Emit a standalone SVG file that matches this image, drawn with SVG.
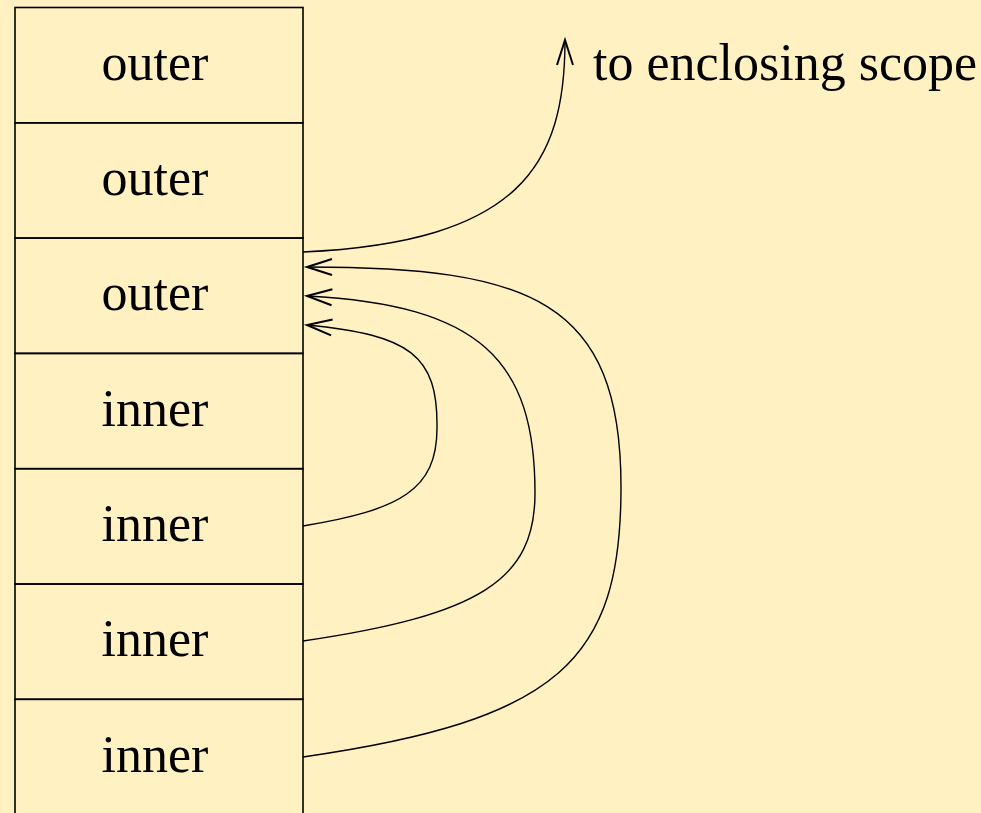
<svg xmlns="http://www.w3.org/2000/svg" width="981" height="813" viewBox="0 0 981 813">
<style>
.cell{fill:none;stroke:#000;stroke-width:1.6}
.lbl{font-family:"Liberation Serif","Times New Roman",serif;font-size:52px;fill:#000;text-anchor:middle}
.note{font-family:"Liberation Serif","Times New Roman",serif;font-size:52px;fill:#000}
.link{fill:none;stroke:#000;stroke-width:1.4;marker-end:url(#arr)}
</style>
<defs>
<marker id="arr" markerUnits="userSpaceOnUse" markerWidth="40" markerHeight="30" viewBox="-30 -15 40 30" refX="0" refY="0" orient="auto">
<path d="M-25,-8 L0,0 L-25,8" fill="none" stroke="#000" stroke-width="2"/>
</marker>
</defs>
<rect width="981" height="813" fill="#fff1c1"/>
<g id="row1"><rect class="cell" x="15" y="7.5" width="288" height="115.3"/><text class="lbl" x="155" y="80">outer</text></g>
<g id="row2"><rect class="cell" x="15" y="122.8" width="288" height="115.3"/><text class="lbl" x="155" y="195">outer</text></g>
<g id="row3"><rect class="cell" x="15" y="238.1" width="288" height="115.3"/><text class="lbl" x="155" y="310">outer</text></g>
<g id="row4"><rect class="cell" x="15" y="353.4" width="288" height="115.3"/><text class="lbl" x="155" y="426">inner</text></g>
<g id="row5"><rect class="cell" x="15" y="468.7" width="288" height="115.3"/><text class="lbl" x="155" y="541">inner</text></g>
<g id="row6"><rect class="cell" x="15" y="584" width="288" height="115.3"/><text class="lbl" x="155" y="656">inner</text></g>
<g id="row7"><rect class="cell" x="15" y="699.3" width="288" height="130"/><text class="lbl" x="155" y="772">inner</text></g>
<g id="note"><text class="note" x="593" y="80">to enclosing scope</text></g>
<g id="connectors">
<path class="link" d="M303,252 C520,242 565,165 565,40"/>
<path class="link" d="M303,526 C400,510 437,490 437,428 C438,355 410,335 307,325"/>
<path class="link" d="M303,641 C480,615 535,580 535,493 C535,360 480,305 307,296"/>
<path class="link" d="M303,757 C560,720 621,660 621,487 C621,300 530,267 307,267"/>
</g>
</svg>
